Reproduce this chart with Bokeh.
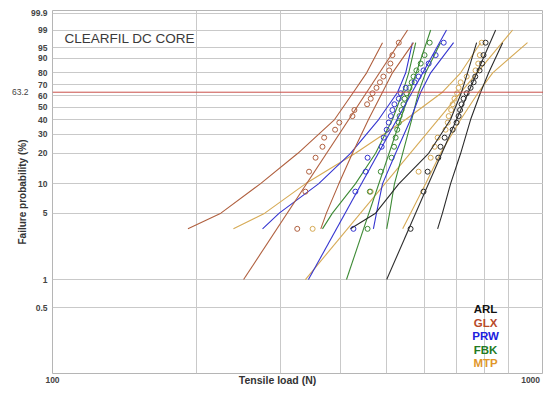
import numpy as np
from bokeh.plotting import figure
from bokeh.models import (FixedTicker, Label, LinearAxis, LogAxis, Range1d, Span,
                          PrintfTickFormatter)
from bokeh.embed import file_html
from bokeh.resources import INLINE

# ---------------- data ----------------
# plotting positions (median ranks, %) of the 20 specimens of every group
rank_pct = [3.43, 8.33, 13.24, 18.14, 23.04, 27.94, 32.84, 37.75, 42.65, 47.55,
            52.45, 57.35, 62.25, 67.16, 72.06, 76.96, 81.86, 86.76, 91.67, 96.57]

groups = ["ARL", "GLX", "PRW", "FBK", "MTP"]

# tensile load of each specimen (N), sorted
arl_load = [561, 597, 609, 641, 648, 661, 687, 700, 707, 712,
            717, 724, 735, 749, 760, 766, 782, 792, 797, 805]
glx_load = [325, 338, 344, 355, 367, 370, 390, 398, 424, 428,
            455, 463, 467, 476, 484, 492, 506, 509, 514, 530]
prw_load = [426, 430, 452, 456, 488, 493, 500, 505, 510, 514,
            519, 530, 535, 548, 572, 583, 597, 612, 633, 658]
fbk_load = [456, 461, 486, 512, 518, 522, 526, 530, 532, 537,
            542, 545, 550, 558, 564, 569, 577, 589, 600, 615]
mtp_load = [350, 463, 583, 618, 630, 639, 664, 671, 674, 682,
            687, 693, 702, 707, 714, 735, 767, 777, 783, 790]

# fitted Weibull lines: load (N) at 1 % and 99 %
fit_pct = [1, 99]
arl_fit = [500, 845]
glx_fit = [251, 553]
prw_fit = [343, 667]
fbk_fit = [412, 618]
mtp_fit = [338, 917]

# confidence bounds: load (N) read at these failure probabilities (%)
bound_pct = [3.43, 5, 10, 20, 40, 63.2, 80, 96.57]
arl_lo = [420, 474, 530, 612, 680, 717, 738, 771]
arl_hi = [639, 654, 680, 714, 749, 786, 817, 874]
glx_lo = [192, 225, 272, 326, 389, 426, 454, 490]
glx_hi = [364, 374, 397, 424, 458, 490, 514, 569]
prw_lo = [275, 298, 360, 420, 481, 527, 548, 566]
prw_hi = [469, 476, 490, 522, 561, 589, 618, 690]
fbk_lo = [367, 385, 430, 474, 514, 540, 556, 575]
fbk_hi = [500, 507, 519, 540, 564, 583, 603, 648]
mtp_lo = [239, 278, 338, 430, 548, 654, 714, 786]
mtp_hi = [540, 561, 603, 648, 714, 778, 833, 985]

# axis ticks
y_tick_pct = [0.5, 1, 5, 10, 20, 30, 40, 50, 60, 70, 80, 90, 95, 99, 99.9]
y_tick_labels = ["0.5", "1", "5", "10", "20", "30", "40", "50", "60", "70",
                 "80", "90", "95", "99", "99.9"]
x_tick_vals = [100, 1000]
x_grid_vals = [200, 300, 400, 500, 600, 700, 800, 900]
char_pct = 63.2
char_label = "63.2"
x_title = "Tensile load (N)"
x_title_at = 295.6      # load value under which the x title is centred

# ---------------- styling ----------------
line_colors = {"ARL": "#2b2b2b", "GLX": "#b0603f", "PRW": "#3535d0",
               "FBK": "#3d8a35", "MTP": "#d6aa55"}
text_colors = {"ARL": "#111111", "GLX": "#b84a2a", "PRW": "#2020dd",
               "FBK": "#237a23", "MTP": "#e0962a"}
FONT = "Liberation Sans"
TICK_COLOR = "#444444"


def weib(pct):
    q = np.asarray(pct, dtype=float) / 100.0
    return np.log(-np.log(1.0 - q))


y_lo = float(weib(0.1))
y_hi = 2.006

p = figure(width=543, height=392, x_axis_type="log",
           x_range=Range1d(100, 1064), y_range=Range1d(y_lo, y_hi),
           output_backend="svg", toolbar_location=None,
           min_border_left=52, min_border_right=0, min_border_top=10,
           min_border_bottom=19)
p.outline_line_color = "#b5b5b5"
p.outline_line_width = 1

# x axis (ticks 100 / 1000)
xa = p.xaxis[0]
xa.ticker = FixedTicker(ticks=x_tick_vals, minor_ticks=[])
xa.formatter = PrintfTickFormatter(format="%d")
xa.major_tick_line_color = None
xa.minor_tick_line_color = None
xa.major_tick_out = 0
xa.major_tick_in = 0
xa.axis_line_color = None
xa.major_label_standoff = 3
xa.major_label_text_font = FONT
xa.major_label_text_font_size = "8.5px"
xa.major_label_text_font_style = "bold"
xa.major_label_text_color = TICK_COLOR

# x axis title, on the same row as the tick labels
xt = LogAxis(ticker=FixedTicker(ticks=[x_title_at], minor_ticks=[]),
             major_label_overrides={x_title_at: x_title},
             major_tick_line_color=None, minor_tick_line_color=None,
             major_tick_out=0, major_tick_in=0, axis_line_color=None,
             major_label_standoff=-12, major_label_text_font=FONT,
             major_label_text_font_size="10.5px", major_label_text_font_style="bold",
             major_label_text_color="#333333")
p.add_layout(xt, "below")

# y axis (Weibull scale)
ya = p.yaxis[0]
ytw = [float(v) for v in weib(y_tick_pct)]
ya.ticker = FixedTicker(ticks=ytw, minor_ticks=[])
ya.major_label_overrides = {w: t for w, t in zip(ytw, y_tick_labels)}
ya.major_tick_line_color = None
ya.minor_tick_line_color = None
ya.major_tick_out = 0
ya.major_tick_in = 0
ya.axis_line_color = None
ya.major_label_standoff = 5
ya.major_label_text_font = FONT
ya.major_label_text_font_size = "8.5px"
ya.major_label_text_font_style = "bold"
ya.major_label_text_color = TICK_COLOR
ya.axis_label = "Failure probability (%)"
ya.axis_label_standoff = 0
ya.axis_label_text_font = FONT
ya.axis_label_text_font_size = "10px"
ya.axis_label_text_font_style = "bold"
ya.axis_label_text_color = "#333333"

# extra left axis carrying the 63.2 mark
cw = float(weib(char_pct))
yc = LinearAxis(ticker=FixedTicker(ticks=[cw], minor_ticks=[]),
                major_label_overrides={cw: char_label},
                major_tick_line_color=None, minor_tick_line_color=None,
                major_tick_out=0, major_tick_in=0, axis_line_color=None,
                major_label_standoff=-15, major_label_text_font=FONT,
                major_label_text_font_size="8.5px", major_label_text_color=TICK_COLOR)
p.add_layout(yc, "left")

# grids
p.xgrid.ticker = FixedTicker(ticks=x_grid_vals, minor_ticks=[])
p.ygrid.ticker = FixedTicker(ticks=ytw, minor_ticks=[])
p.xgrid.grid_line_color = "#c9c9c9"
p.ygrid.grid_line_color = "#c9c9c9"

# characteristic-strength line at 63.2 %
p.add_layout(Span(location=cw, dimension="width", line_color="#c9504a", line_width=1))

series = {
    "ARL": (arl_load, arl_fit, arl_lo, arl_hi),
    "GLX": (glx_load, glx_fit, glx_lo, glx_hi),
    "PRW": (prw_load, prw_fit, prw_lo, prw_hi),
    "FBK": (fbk_load, fbk_fit, fbk_lo, fbk_hi),
    "MTP": (mtp_load, mtp_fit, mtp_lo, mtp_hi),
}
for g in ["MTP", "FBK", "PRW", "GLX", "ARL"]:
    load, fit, lo, hi = series[g]
    c = line_colors[g]
    p.line(x=lo, y=weib(bound_pct), line_color=c, line_width=1.1)
    p.line(x=hi, y=weib(bound_pct), line_color=c, line_width=1.1)
    p.line(x=fit, y=weib(fit_pct), line_color=c, line_width=1.1)
    p.scatter(x=load, y=weib(rank_pct), marker="circle", size=5,
              fill_color=None, line_color=c, line_width=1)

# chart title
p.add_layout(Label(x=106, y=1.318, text="CLEARFIL DC CORE", text_align="left",
                   text_baseline="middle", text_font=FONT, text_font_size="13.5px",
                   text_color="#3a3a3a"))

# legend text
legend_y = [-5.32, -5.657, -5.985, -6.329, -6.649]
for g, yy in zip(groups, legend_y):
    p.add_layout(Label(x=805, y=yy, text=g, text_align="center",
                       text_baseline="middle", text_font=FONT,
                       text_font_size="11.5px", text_font_style="bold",
                       text_color=text_colors[g]))

open("out.html", "w").write(file_html(p, INLINE))
